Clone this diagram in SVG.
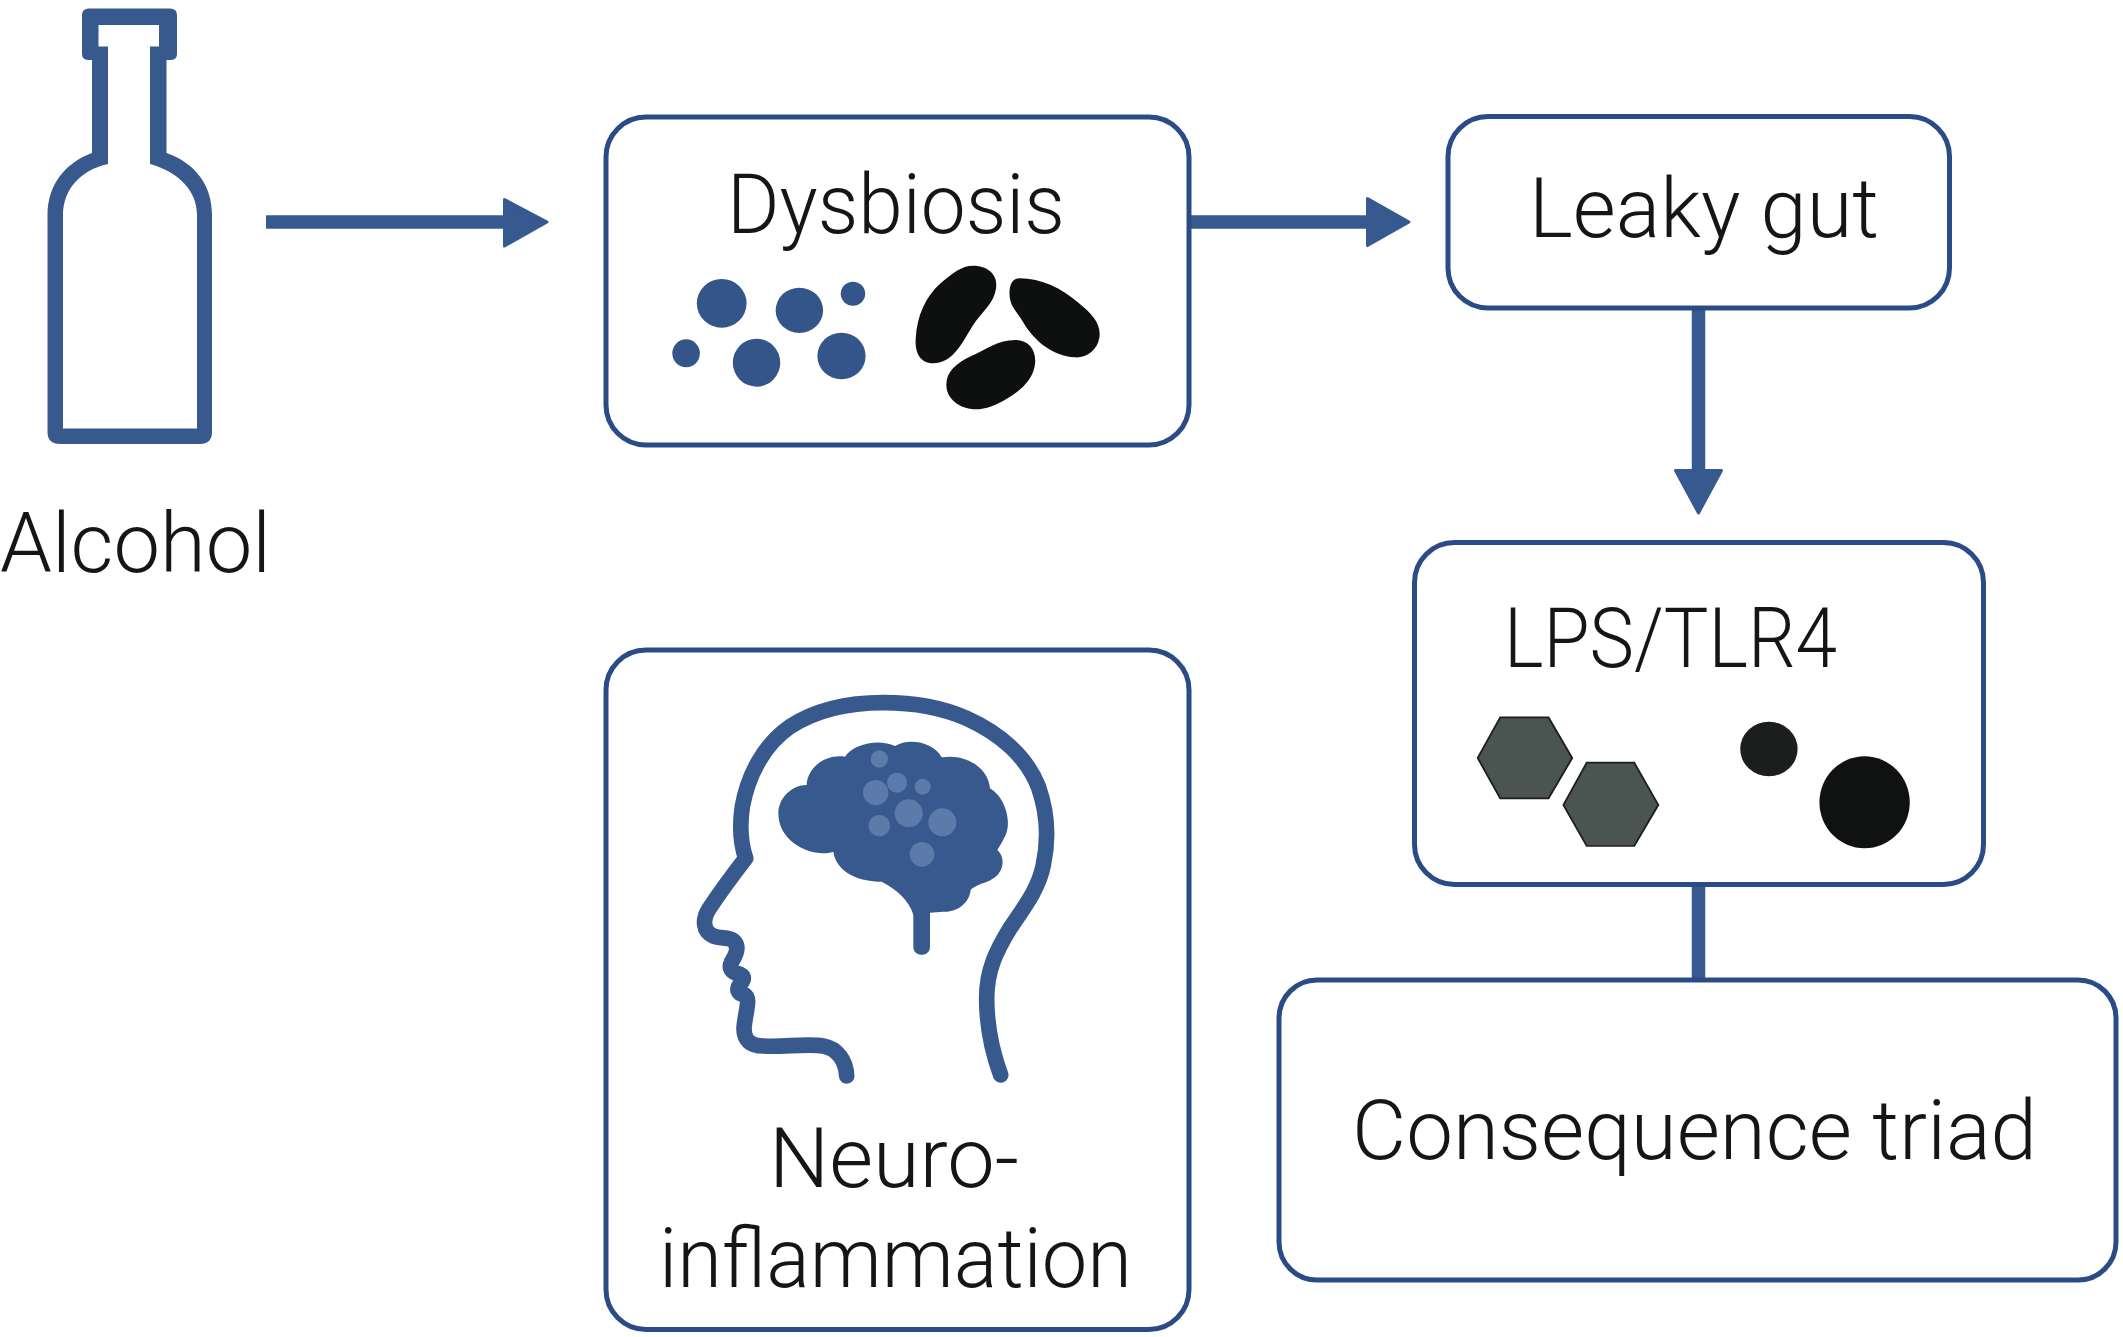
<svg xmlns="http://www.w3.org/2000/svg" width="2123" height="1337" viewBox="0 0 2123 1337">
<style>
text{font-family:"Roboto","Liberation Sans",sans-serif;font-weight:300;font-size:84px;fill:#151515}
.box{fill:#fff;stroke:#2b4b86;stroke-width:5}
.conn{fill:none;stroke:#36598f;stroke-width:13.500}
.head{fill:#36598f;stroke:#36598f;stroke-width:3;stroke-linejoin:round}
.blue{fill:#34558a}
.ink{fill:#0e100f}
.lt{fill:#5c7aaa}
</style>
<rect width="2123" height="1337" fill="#fff"/>
<g id="connectors">
<path class="conn" d="M266 222H505"/><path class="head" d="M504.500 199.500L547 222L504.500 246Z"/>
<path class="conn" d="M1191 222H1367"/><path class="head" d="M1367.500 198.500L1409 222L1367.500 245.500Z"/>
<path class="conn" d="M1698.500 309V472"/><path class="head" d="M1675.500 470.500H1721.500L1698.500 513Z"/>
<path class="conn" d="M1698.500 884V981"/>
</g>
<g id="alcohol">
<path fill-rule="evenodd" fill="#38598e" d="M89 8.500H170Q177 8.500 177 15V54Q177 60 170 60H166.500V153C195 163 212 185 212 215V432Q212 444 200 444H60Q47.500 444 47.500 432V215C47.500 185 65 163 92 153V60H89Q82 60 82 54V15Q82 8.500 89 8.500ZM98.500 25V46.500H108V164C80 170 63 190 63 215V428.500H197V215C197 190 178 172 150 164V46.500H159V25Z"/>
<text x="0" y="572" textLength="271" lengthAdjust="spacingAndGlyphs">Alcohol</text>
</g>
<g id="dysbiosis">
<rect class="box" x="606" y="117" width="583" height="328" rx="40"/>
<text x="727" y="232.700" textLength="338" lengthAdjust="spacingAndGlyphs">Dysbiosis</text>
<g transform="translate(600 100) scale(.3827 .33333)">
<g class="blue">
<ellipse cx="318" cy="610" rx="65" ry="73"/><ellipse cx="521" cy="631" rx="62" ry="68"/><ellipse cx="661" cy="581" rx="32" ry="36"/><ellipse cx="225" cy="760" rx="36" ry="42"/><ellipse cx="409" cy="788" rx="62" ry="72"/><ellipse cx="631" cy="768" rx="63" ry="70"/>
</g>
<g class="ink">
<path d="M975 497C1015 497 1040 525 1035 565C1030 610 998 635 975 675C950 720 925 790 870 790C838 790 822 760 825 715C828 650 850 590 890 550C920 520 945 497 975 497Z"/>
<path d="M1095 535C1155 535 1205 565 1250 608C1285 640 1310 670 1305 712C1300 752 1270 775 1240 772C1185 768 1135 725 1105 665C1090 635 1070 620 1070 580C1070 552 1078 535 1095 535Z"/>
<path d="M1085 720C1120 720 1140 750 1137 790C1133 838 1100 872 1062 897C1030 918 1000 932 970 927C930 920 905 890 905 855C905 815 930 790 970 768C1010 748 1040 720 1085 720Z"/>
</g>
</g>
</g>
<g id="leaky-gut">
<rect class="box" x="1448" y="116.500" width="501.500" height="191.500" rx="40"/>
<text x="1529" y="237.300" textLength="350" lengthAdjust="spacingAndGlyphs">Leaky gut</text>
</g>
<g id="lps-tlr4">
<rect class="box" x="1414.500" y="542.500" width="569" height="342" rx="40"/>
<text x="1504" y="666.700" textLength="333" lengthAdjust="spacingAndGlyphs">LPS/TLR4</text>
<g transform="translate(1400 520) scale(.3827 .33333)">
<path fill="#4a5551" stroke="#1c1f1e" stroke-width="5" d="M262 592H388L450 714L388 835H262L203 714Z"/>
<path fill="#4a5551" stroke="#1c1f1e" stroke-width="5" d="M488 728H612L675 855L612 978H488L427 855Z"/>
<ellipse cx="964" cy="687" rx="75" ry="82" fill="#1c1e1d"/>
<ellipse cx="1214" cy="847" rx="118" ry="138" fill="#0f1211"/>
</g>
</g>
<g id="consequence-triad">
<rect class="box" x="1279" y="980" width="837" height="300" rx="38"/>
<text x="1352" y="1159" textLength="685" lengthAdjust="spacingAndGlyphs">Consequence triad</text>
</g>
<g id="neuroinflammation">
<rect class="box" x="606" y="650" width="583" height="679.500" rx="40"/>
<g transform="translate(650 670) scale(.33333)">
<path fill="none" stroke="#38598e" stroke-width="47" stroke-linecap="round" stroke-linejoin="round" d="M1052 1215C1030 1155 1010 1070 1010 985C1010 900 1040 840 1080 775C1120 715 1165 660 1180 585C1198 500 1190 420 1165 350C1130 260 1050 190 950 145C870 110 790 98 700 98C600 98 500 118 420 170C345 222 295 310 277 410C268 470 272 520 287 565C260 600 215 660 178 715C155 750 160 785 190 798C210 807 235 800 250 812C270 830 258 855 245 875C235 895 245 905 262 910C282 915 285 925 272 940C258 958 262 972 285 975C303 985 285 1030 282 1075C282 1110 300 1128 340 1128C400 1132 470 1120 520 1128C560 1135 588 1170 590 1218"/>
<path fill="#38598e" d="M385 430C385 385 425 345 470 345C470 300 520 250 585 260C610 220 690 205 735 228C780 200 855 220 875 262C950 250 1015 295 1020 355C1065 380 1090 460 1062 505C1055 520 1048 530 1042 540C1070 565 1060 615 1018 632C1000 640 975 645 962 660C958 700 920 728 880 725L840 728V830C840 862 790 862 790 830V735C778 690 735 655 695 635C630 635 560 610 550 545C490 565 385 520 385 430Z"/>
<g class="lt">
<circle cx="688" cy="267" r="26"/><circle cx="677" cy="368" r="38"/><circle cx="741" cy="338" r="30"/><circle cx="818" cy="350" r="24"/><circle cx="776" cy="430" r="42"/><circle cx="877" cy="457" r="42"/><circle cx="688" cy="467" r="32"/><circle cx="816" cy="553" r="37"/>
</g>
</g>
<text x="769" y="1187" textLength="250" lengthAdjust="spacingAndGlyphs">Neuro-</text>
<text x="659" y="1287" textLength="473" lengthAdjust="spacingAndGlyphs">inflammation</text>
</g>
</svg>
